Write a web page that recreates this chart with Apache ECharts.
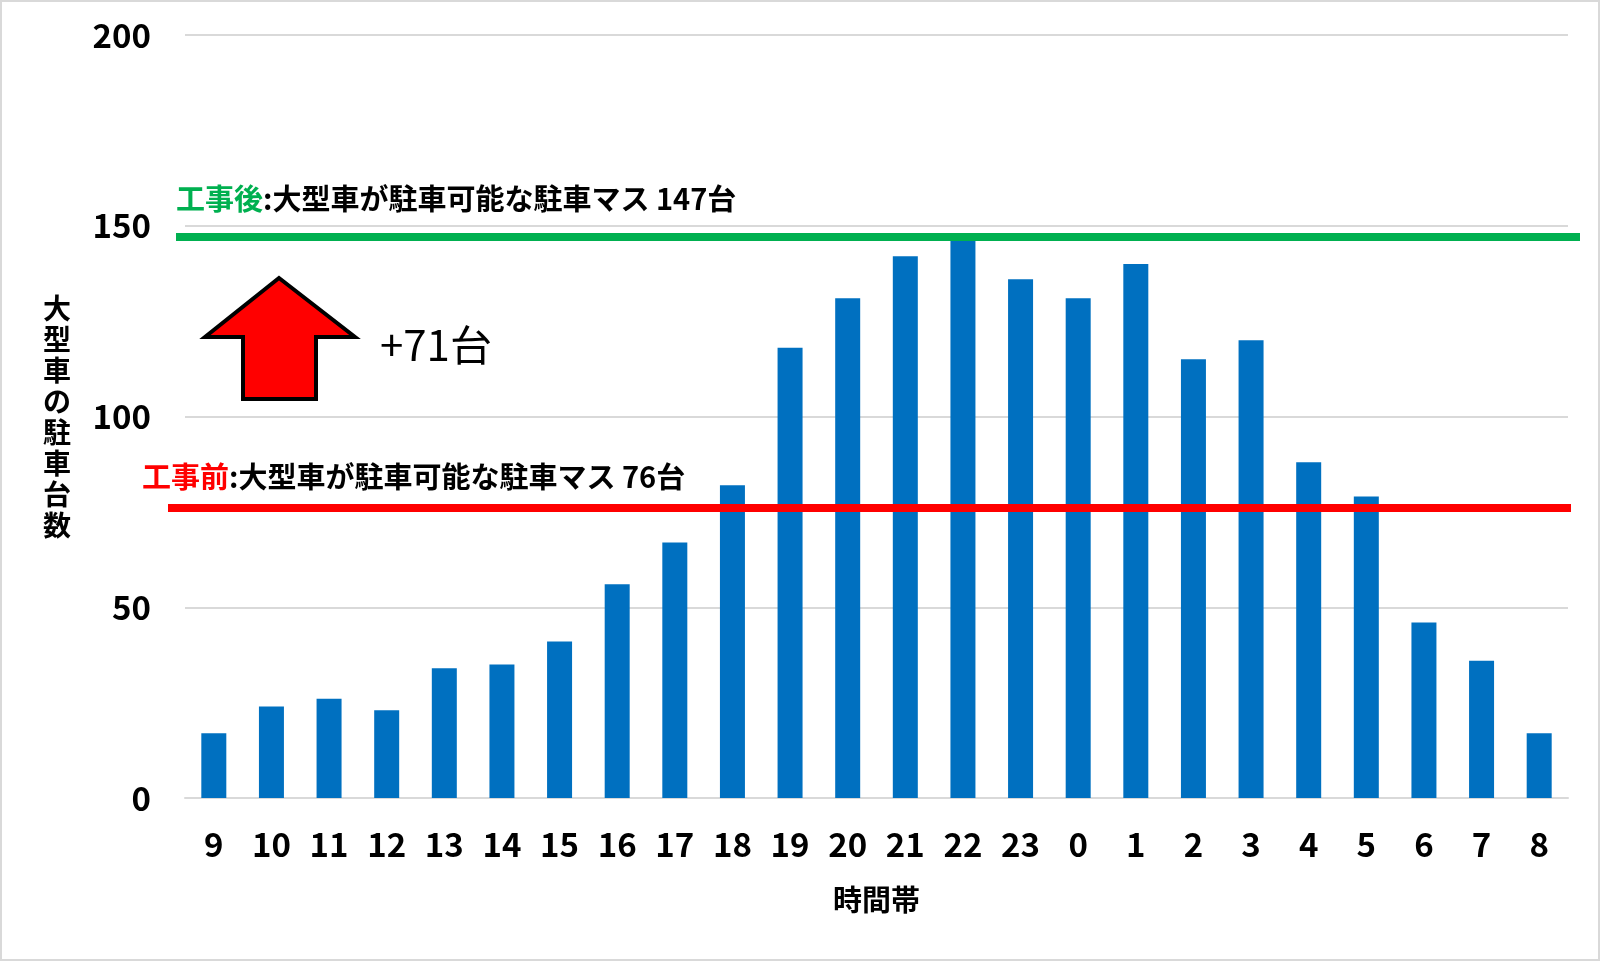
<!DOCTYPE html>
<html>
<head>
<meta charset="utf-8">
<script src="https://cdn.jsdelivr.net/npm/echarts@6/dist/echarts.min.js"></script>
<style>
  html, body { margin: 0; padding: 0; background: #fff; }
  #main { width: 1600px; height: 961px; }
</style>
</head>
<body>
<div id="main"></div>
<script>
// 時間帯ごとの大型車駐車台数
const hours = ['9', '10', '11', '12', '13', '14', '15', '16', '17', '18', '19', '20',
  '21', '22', '23', '0', '1', '2', '3', '4', '5', '6', '7', '8'];
const parked = [17, 24, 26, 23, 34, 35, 41, 56, 67, 82, 118, 131,
  142, 147, 136, 131, 140, 115, 120, 88, 79, 46, 36, 17];
const capacityBefore = 76;
const capacityAfter = 147;
const yTicks = [0, 50, 100, 150, 200];

const FONT = '"Noto Sans CJK JP", "Noto Sans", sans-serif';
const BLUE = '#0070C0';
const GREEN = '#00B050';
const RED = '#FF0000';

var myChart = echarts.init(document.getElementById('main'));

// 横線（グリッドの外まで少しはみ出す）
function capLine(value, color, x0, x1) {
  return [
    { coord: [hours[0], value], x: x0, lineStyle: { color: color, width: 8, type: 'solid' } },
    { coord: [hours[hours.length - 1], value], x: x1 }
  ];
}

var option = {
  backgroundColor: '#fff',
  animation: false,
  textStyle: { fontFamily: FONT },
  grid: { left: 185, right: 32, top: 35, bottom: 163 },
  xAxis: {
    type: 'category',
    data: hours,
    name: '時間帯',
    nameLocation: 'middle',
    nameGap: 87,
    nameTextStyle: { fontSize: 29, fontWeight: 'bold', color: '#000', fontFamily: FONT },
    axisLine: { lineStyle: { color: '#d9d9d9', width: 2 } },
    axisTick: { show: false },
    axisLabel: { margin: 30, fontSize: 33, fontWeight: 'bold', color: '#000', fontFamily: FONT }
  },
  yAxis: {
    type: 'value',
    min: yTicks[0],
    max: yTicks[yTicks.length - 1],
    interval: 50,
    name: '大型車の駐車台数'.split('').join('\n'),
    nameLocation: 'middle',
    nameRotate: 0,
    nameGap: 114,
    nameTextStyle: { fontSize: 28, fontWeight: 'bold', color: '#000', lineHeight: 31, fontFamily: FONT },
    axisLine: { show: false },
    axisTick: { show: false },
    axisLabel: { margin: 34, fontSize: 33, fontWeight: 'bold', color: '#000', fontFamily: FONT },
    splitLine: { lineStyle: { color: '#d9d9d9', width: 2 } }
  },
  series: [
    {
      name: '駐車台数',
      type: 'bar',
      data: parked,
      barWidth: 25,
      itemStyle: { color: BLUE },
      z: 2,
      markLine: {
        symbol: 'none',
        silent: true,
        label: { show: false },
        z: 5,
        data: [
          capLine(capacityAfter, GREEN, 176, 1580),
          capLine(capacityBefore, RED, 168, 1571)
        ]
      }
    }
  ],
  graphic: [
    {
      type: 'rect',
      shape: { x: 1, y: 1, width: 1598, height: 959 },
      style: { fill: null, stroke: '#d9d9d9', lineWidth: 2 },
      silent: true
    },
    {
      type: 'text',
      left: 176,
      top: 184,
      style: {
        text: '{g|工事後}{k|:大型車が駐車可能な駐車マス ' + capacityAfter + '台}',
        rich: {
          g: { fill: GREEN, fontSize: 29, fontWeight: 'bold', fontFamily: FONT },
          k: { fill: '#000', fontSize: 29, fontWeight: 'bold', fontFamily: FONT }
        }
      }
    },
    {
      type: 'text',
      left: 142,
      top: 462,
      style: {
        text: '{r|工事前}{k|:大型車が駐車可能な駐車マス ' + capacityBefore + '台}',
        rich: {
          r: { fill: RED, fontSize: 29, fontWeight: 'bold', fontFamily: FONT },
          k: { fill: '#000', fontSize: 29, fontWeight: 'bold', fontFamily: FONT }
        }
      }
    },
    {
      // 増加を示す赤い矢印
      type: 'polygon',
      shape: {
        points: [[279, 278], [355, 337], [316, 337], [316, 399],
          [243, 399], [243, 337], [205, 337]]
      },
      style: { fill: RED, stroke: '#000', lineWidth: 4 },
      silent: true
    },
    {
      type: 'text',
      left: 380,
      top: 324,
      style: {
        text: '+' + (capacityAfter - capacityBefore) + '台',
        fill: '#000',
        fontSize: 42,
        fontFamily: FONT
      }
    }
  ]
};

myChart.setOption(option);
</script>
</body>
</html>
